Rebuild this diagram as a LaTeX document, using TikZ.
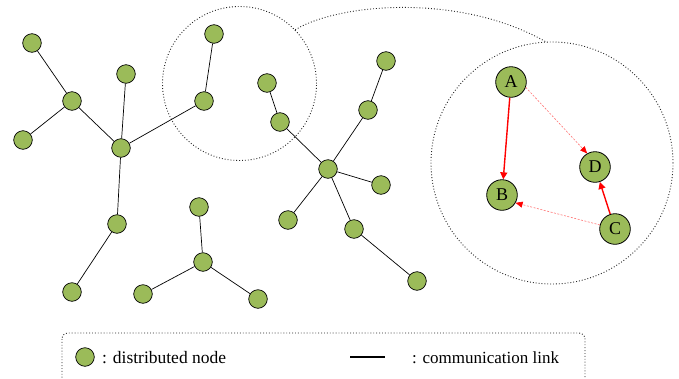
\documentclass[tikz,border=0pt]{standalone}
\usepackage{fontspec}
\setmainfont{Liberation Serif}
\usetikzlibrary{arrows.meta}
\definecolor{nodegreen}{RGB}{155,187,89}

\begin{document}
\begin{tikzpicture}[x=1pt,y=-1pt,
    dnode/.style={circle,draw=black,line width=0.7pt,fill=nodegreen,minimum size=18.6pt,inner sep=0pt},
    bignode/.style={circle,draw=black,line width=0.8pt,fill=nodegreen,minimum size=30.6pt,inner sep=0pt,font=\fontsize{18}{20}\selectfont},
    link/.style={line width=0.7pt},
    dots/.style={draw=black!85,line width=0.9pt,dash pattern=on 0.9pt off 2pt},
    ring/.style={circle,dots,inner sep=0pt},
    hard/.style={red,line width=1.4pt,-{Triangle[length=7pt,width=7pt]}},
    soft/.style={red!55,line width=0.6pt,dash pattern=on 2pt off 1.5pt,-{Triangle[length=7pt,width=6pt,color=red,fill=red]}},
    keytext/.style={anchor=base west,inner sep=0pt,font=\fontsize{17.5}{20}\selectfont}]
            % 画布大小 (像素坐标)
            \useasboundingbox (0,0) rectangle (679,378);
            \clip (0,0) rectangle (679,378);

            % 放大圆圈
            \node[ring,minimum size=154pt] (zoomS) at (239.5,83.5) {};
            \node[ring,minimum size=242pt] (zoomB) at (552,163) {};
            \draw[dots] (zoomS.44) .. controls (340,3) and (460,-7) .. (zoomB.93);

            % 分布式节点
            \foreach \name/\x/\y in {l1/32/43, l2/72/101, l3/23/140, l4/126/74, l5/121/148,
                                     l6/214/34, l7/204/101, l8/117/224, l9/72/292,
                                     m1/199/207, m2/203/262, m3/143/294, m4/258/299,
                                     r1/267/83, r2/280/122, r3/328/169, r4/288/220, r5/386/61,
                                     r6/368/110, r7/381/185, r8/354/229, r9/417/281} {
                \node[dnode] (\name) at (\x,\y) {};
            }

            % 通信链路
            \foreach \a/\b in {l1/l2, l3/l2, l2/l5, l4/l5, l5/l7, l7/l6, l5/l8, l8/l9,
                               m1/m2, m2/m3, m2/m4,
                               r1/r2, r2/r3, r3/r4, r3/r6, r6/r5, r3/r7, r3/r8, r8/r9} {
                \draw[link] (\a) -- (\b);
            }

            % 放大后的节点 A, B, C, D
            \node[bignode] (A) at (511,82) {A};
            \node[bignode] (B) at (502,195) {B};
            \node[bignode] (D) at (595,167) {D};
            \node[bignode] (C) at (615,229) {C};

            % 红色箭头
            \draw[hard] (A) -- (B); % A 到 B
            \draw[hard] (C) -- (D); % C 到 D
            \draw[soft] (A.-20) -- (D.120); % A 到 D (虚线)
            \draw[soft] (C.165) -- (B.-30); % C 到 B (虚线)

            % 图例
            \draw[dots,rounded corners=6pt] (62,333) rectangle (585,395);
            \node[dnode] (keyN) at (85,357) {};
            \node[keytext] (keyNtext) at (102,363) {: distributed node};
            \coordinate (keyL1) at (350,357);
            \coordinate (keyL2) at (385,357);
            \draw[line width=1.4pt] (keyL1) -- (keyL2);
            \node[keytext,font=\fontsize{17}{20}\selectfont] (keyLtext) at (412,363) {: communication link};
\end{tikzpicture}
\end{document}
